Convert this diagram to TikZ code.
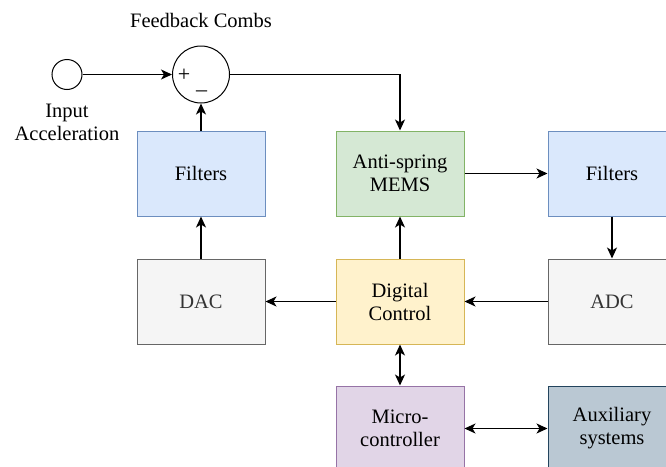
\documentclass[tikz,border=0pt]{standalone}
\usepackage{tikz}
\usetikzlibrary{arrows.meta}
\usepackage{xcolor}
\usepackage{fontspec}
\setmainfont{Liberation Serif}

\definecolor{blueF}{HTML}{DAE8FC}\definecolor{blueD}{HTML}{6C8EBF}
\definecolor{greenF}{HTML}{D5E8D4}\definecolor{greenD}{HTML}{82B366}
\definecolor{yellowF}{HTML}{FFF2CC}\definecolor{yellowD}{HTML}{D6B656}
\definecolor{greyF}{HTML}{F5F5F5}\definecolor{greyD}{HTML}{666666}
\definecolor{greyT}{HTML}{333333}
\definecolor{purpleF}{HTML}{E1D5E7}\definecolor{purpleD}{HTML}{9673A6}
\definecolor{slateF}{HTML}{BAC8D3}\definecolor{slateD}{HTML}{23445D}

\begin{document}
\begin{tikzpicture}[
    x=1pt, y=-1pt,
    blk/.style={draw, line width=1pt, minimum width=128pt, minimum height=85pt,
                align=center, inner sep=0pt, font=\fontsize{20.5}{23}\selectfont},
    bluebox/.style={blk, fill=blueF, draw=blueD},
    greenbox/.style={blk, fill=greenF, draw=greenD},
    yellowbox/.style={blk, fill=yellowF, draw=yellowD},
    greybox/.style={blk, fill=greyF, draw=greyD, text=greyT},
    purplebox/.style={blk, fill=purpleF, draw=purpleD},
    slatebox/.style={blk, fill=slateF, draw=slateD},
    lbl/.style={align=center, inner sep=0pt, font=\fontsize{20.5}{23}\selectfont},
    sgn/.style={inner sep=0pt, font=\fontsize{22}{22}\selectfont},
    wire/.style={line width=1.3pt},
    >={Stealth[length=11pt,width=10pt,inset=3pt]}
]
\path[use as bounding box, clip] (0,0) rectangle (666,466);

% columns and rows (pixels, y downwards)
\def\colA{201}
\def\colB{400}
\def\colC{612}
\def\rowA{74.5}
\def\rowB{173.5}
\def\rowC{301.5}
\def\rowD{428.5}

% input and summing junction
\node[draw, circle, line width=1pt, minimum size=30pt, inner sep=0pt] (inp) at (67,\rowA) {};
\node[draw, circle, line width=1pt, minimum size=57pt, inner sep=0pt] (sum) at (\colA,\rowA) {};
\node[lbl] (inplbl) at (67,122.5) {Input\\Acceleration};
\node[lbl] (fblbl) at (\colA,20) {Feedback Combs};
\node[sgn] (plus) at (184,75) {+};
\node[sgn] (minus) at (201.5,94) {–};

% blocks
\node[bluebox]   (filtL) at (\colA,\rowB) {Filters};
\node[greenbox]  (mems)  at (\colB,\rowB) {Anti-spring\\MEMS};
\node[bluebox]   (filtR) at (\colC,\rowB) {Filters};
\node[greybox]   (dac)   at (\colA,\rowC) {DAC};
\node[yellowbox] (dig)   at (\colB,\rowC) {Digital\\Control};
\node[greybox]   (adc)   at (\colC,\rowC) {ADC};
\node[purplebox] (micro) at (\colB,\rowD) {Micro-\\controller};
\node[slatebox]  (aux)   at (\colC,\rowD) {Auxiliary\\systems};

% signal path
\draw[wire, ->] (inp) -- (sum.west);
\draw[wire, ->] (sum.east) -| (mems.north);
\draw[wire, ->] (mems) -- (filtR);
\draw[wire, ->] (filtR) -- (adc);
\draw[wire, ->] (adc) -- (dig);
\draw[wire, ->] (dig) -- (dac);
\draw[wire, ->] (dac) -- (filtL);
\draw[wire, ->] (filtL) -- (sum.south);
\draw[wire, ->] (dig) -- (mems);
\draw[wire, <->] (dig) -- (micro);
\draw[wire, <->] (micro) -- (aux);

\end{tikzpicture}
\end{document}
